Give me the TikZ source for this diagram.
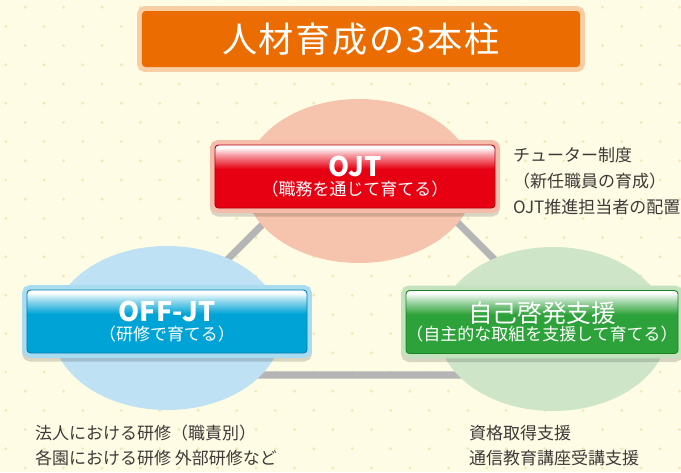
\documentclass[tikz,border=0pt]{standalone}
\usepackage{fontspec}
\setmainfont{Noto Sans CJK JP}
\usetikzlibrary{positioning,shapes.geometric}

\definecolor{bgcol}{HTML}{FEFCE4}
\definecolor{dotcol}{HTML}{F3EABB}
\definecolor{linecol}{HTML}{B5B5B5}
\definecolor{txtcol}{HTML}{3E3A39}
\definecolor{titlecol}{HTML}{EB6C00}
\definecolor{titleband}{HTML}{F8CFA5}
\definecolor{ojtcol}{HTML}{E60012}
\definecolor{ojtdark}{HTML}{B0000E}
\definecolor{ojtband}{HTML}{F6BCAA}
\definecolor{ojtfill}{HTML}{F6C4AD}
\definecolor{offcol}{HTML}{00A3D6}
\definecolor{offdark}{HTML}{0080B0}
\definecolor{offband}{HTML}{AADCF1}
\definecolor{offfill}{HTML}{BEE1F3}
\definecolor{selfcol}{HTML}{2EA23A}
\definecolor{selfdark}{HTML}{1C8228}
\definecolor{selfband}{HTML}{C4E2BD}
\definecolor{selffill}{HTML}{CFE5C8}
\colorlet{ojtlite}{ojtcol!40!white}
\colorlet{offlite}{offcol!40!white}
\colorlet{selflite}{selfcol!40!white}

%shading of the three boxes
\pgfdeclareverticalshading{ojtshade}{100bp}{color(0bp)=(ojtdark);color(26bp)=(ojtcol);color(56bp)=(ojtcol);color(67bp)=(ojtlite);color(73bp)=(white);color(100bp)=(white)}
\pgfdeclareverticalshading{offshade}{100bp}{color(0bp)=(offdark);color(26bp)=(offcol);color(56bp)=(offcol);color(67bp)=(offlite);color(73bp)=(white);color(100bp)=(white)}
\pgfdeclareverticalshading{selfshade}{100bp}{color(0bp)=(selfdark);color(26bp)=(selfcol);color(56bp)=(selfcol);color(67bp)=(selflite);color(73bp)=(white);color(100bp)=(white)}

\tikzset{
  oval/.style={ellipse, inner sep=0pt, minimum width=6.9cm, minimum height=4.92cm},
  pillar/.style={rounded corners=3pt, draw=#1dark, line width=0.8pt, shade, shading=#1shade,
    preaction={draw=black, fill=black, opacity=0.15, line width=8.5pt, transform canvas={yshift=-3pt}},
    preaction={draw=#1band, line width=8.5pt},
    text=white, align=center, inner sep=0pt, minimum height=1.89cm,
    font=\fontsize{14.5}{16}\selectfont},
  titlebox/.style={rounded corners=3pt, fill=titlecol, preaction={draw=titleband, line width=8.5pt},
    text=white, inner sep=0pt, minimum width=13.14cm, minimum height=1.68cm,
    font=\fontsize{30}{30}\selectfont\addfontfeature{LetterSpace=5}},
  note/.style={text=txtcol, align=left, inner sep=0pt, anchor=west, font=\fontsize{14.5}{22}\selectfont}
}

\begin{document}
\begin{tikzpicture}[x=0.03cm, y=-0.03cm]

\useasboundingbox (0,0) rectangle (681,472);
\clip (0,0) rectangle (681,472);

%Background
\fill[bgcol] (0,0) rectangle (681,472);

%Draw dots by hand using a loop
\foreach \r in {0,...,24}
\foreach \c in {0,...,17}
\fill[dotcol] ({25-19.25*mod(\r,2)+38.5*\c}, {7.2+19.2*\r}) circle (1.4pt);

%Corners of the triangle
\coordinate (apex) at (361,126);
\coordinate (lcorner) at (112,375);
\coordinate (rcorner) at (610,375);
\draw[linecol, line width=6pt] (apex) -- (lcorner) -- (rcorner) -- cycle;

%Ovals
\node (ojtoval) [oval, fill=ojtfill] at (359,181) {};
\node (offoval) [oval, fill=offfill] at (167,328) {};
\node (selfoval) [oval, fill=selffill] at (553,329) {};

%Title
\node (title) [titlebox] at (361,39) {人材育成の3本柱};

%Pillars
\node (ojt) [pillar=ojt, minimum width=8.4cm] at (355,176.5)
  {{\fontsize{23}{23}\selectfont\bfseries OJT}\\（職務を通じて育てる）};
\node (offjt) [pillar=off, minimum width=8.4cm] at (167,321.5)
  {{\fontsize{23}{23}\selectfont\bfseries OFF-JT}\\（研修で育てる）};
\node (self) [pillar=self, minimum width=8.16cm] at (542,322)
  {{\fontsize{21}{23}\selectfont 自己啓発支援}\\（自主的な取組を支援して育てる）};

%Notes
\node (ojtnotes) [note] at (513,181) {チューター制度\\（新任職員の育成）\\OJT推進担当者の配置};
\node (offnotes) [note, font=\fontsize{14.5}{21}\selectfont] at (35,445.5) {法人における研修（職責別）\\各園における研修 外部研修など};
\node (selfnotes) [note, font=\fontsize{14.5}{21}\selectfont] at (469,445.5) {資格取得支援\\通信教育講座受講支援};

\end{tikzpicture}
\end{document}
